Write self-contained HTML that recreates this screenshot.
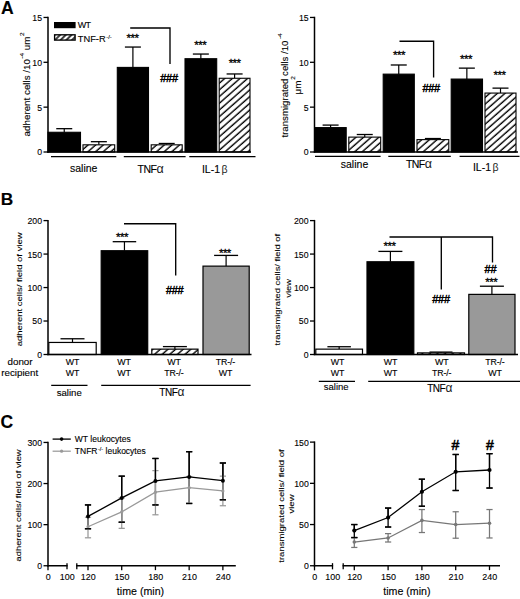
<!DOCTYPE html>
<html lang="en"><head><meta charset="utf-8"><title>Figure</title>
<style>html,body{margin:0;padding:0;background:#fff}svg{display:block}text{font-family:"Liberation Sans", Arial, sans-serif;stroke:#000;stroke-width:0.12px;paint-order:stroke}</style>
</head><body>
<svg width="520" height="599" viewBox="0 0 520 599">
<defs>
<pattern id="hatch" patternUnits="userSpaceOnUse" width="12" height="5.03" patternTransform="rotate(-41.3)"><rect width="12" height="5.03" fill="#fff"/><line x1="0" y1="1.05" x2="12" y2="1.05" stroke="#000" stroke-width="1.4"/></pattern>
<pattern id="hatchL" patternUnits="userSpaceOnUse" width="10" height="4" patternTransform="rotate(-45) translate(0 1.2)"><rect width="10" height="4" fill="#fff"/><line x1="0" y1="2" x2="10" y2="2" stroke="#000" stroke-width="1.5"/></pattern>
</defs>
<rect width="520" height="599" fill="#fff"/>
<text x="1.00" y="13.50" font-size="17.6" text-anchor="start" font-weight="bold">A</text>
<text x="0.80" y="205.00" font-size="17.3" text-anchor="start" font-weight="bold">B</text>
<text x="0.60" y="427.90" font-size="17.5" text-anchor="start" font-weight="bold">C</text>
<line x1="48.00" y1="16.75" x2="48.00" y2="152.70" stroke="#000" stroke-width="1.5" stroke-linecap="butt"/>
<line x1="43.50" y1="17.45" x2="48.00" y2="17.45" stroke="#000" stroke-width="1.3" stroke-linecap="butt"/>
<text transform="translate(42.00 20.90) scale(0.9 1)" font-size="9.7" text-anchor="end">15</text>
<line x1="43.50" y1="62.30" x2="48.00" y2="62.30" stroke="#000" stroke-width="1.3" stroke-linecap="butt"/>
<text transform="translate(42.00 65.75) scale(0.9 1)" font-size="9.7" text-anchor="end">10</text>
<line x1="43.50" y1="107.15" x2="48.00" y2="107.15" stroke="#000" stroke-width="1.3" stroke-linecap="butt"/>
<text transform="translate(42.00 110.60) scale(0.9 1)" font-size="9.7" text-anchor="end">5</text>
<line x1="43.50" y1="152.00" x2="48.00" y2="152.00" stroke="#000" stroke-width="1.3" stroke-linecap="butt"/>
<text transform="translate(42.00 155.45) scale(0.9 1)" font-size="9.7" text-anchor="end">0</text>
<line x1="64.25" y1="128.68" x2="64.25" y2="132.27" stroke="#000" stroke-width="1.2" stroke-linecap="butt"/>
<line x1="56.25" y1="128.68" x2="72.25" y2="128.68" stroke="#000" stroke-width="1.3" stroke-linecap="butt"/>
<rect x="48.00" y="132.27" width="32.50" height="19.73" fill="#000" stroke="#000" stroke-width="1.1"/>
<line x1="98.85" y1="141.68" x2="98.85" y2="144.82" stroke="#000" stroke-width="1.2" stroke-linecap="butt"/>
<line x1="90.85" y1="141.68" x2="106.85" y2="141.68" stroke="#000" stroke-width="1.3" stroke-linecap="butt"/>
<rect x="83.00" y="144.82" width="31.70" height="7.18" fill="url(#hatch)" stroke="#000" stroke-width="1.1"/>
<line x1="132.90" y1="47.05" x2="132.90" y2="67.41" stroke="#000" stroke-width="1.2" stroke-linecap="butt"/>
<line x1="124.90" y1="47.05" x2="140.90" y2="47.05" stroke="#000" stroke-width="1.3" stroke-linecap="butt"/>
<rect x="117.30" y="67.41" width="31.20" height="84.59" fill="#000" stroke="#000" stroke-width="1.1"/>
<line x1="166.70" y1="143.48" x2="166.70" y2="144.82" stroke="#000" stroke-width="1.2" stroke-linecap="butt"/>
<line x1="158.70" y1="143.48" x2="174.70" y2="143.48" stroke="#000" stroke-width="1.3" stroke-linecap="butt"/>
<rect x="151.20" y="144.82" width="31.00" height="7.18" fill="url(#hatch)" stroke="#000" stroke-width="1.1"/>
<line x1="200.85" y1="54.05" x2="200.85" y2="58.71" stroke="#000" stroke-width="1.2" stroke-linecap="butt"/>
<line x1="192.85" y1="54.05" x2="208.85" y2="54.05" stroke="#000" stroke-width="1.3" stroke-linecap="butt"/>
<rect x="185.00" y="58.71" width="31.70" height="93.29" fill="#000" stroke="#000" stroke-width="1.1"/>
<line x1="234.60" y1="73.96" x2="234.60" y2="78.27" stroke="#000" stroke-width="1.2" stroke-linecap="butt"/>
<line x1="226.60" y1="73.96" x2="242.60" y2="73.96" stroke="#000" stroke-width="1.3" stroke-linecap="butt"/>
<rect x="219.20" y="78.27" width="30.80" height="73.73" fill="url(#hatch)" stroke="#000" stroke-width="1.1"/>
<line x1="47.30" y1="152.00" x2="251.00" y2="152.00" stroke="#000" stroke-width="1.5" stroke-linecap="butt"/>
<line x1="51.00" y1="156.60" x2="116.30" y2="156.60" stroke="#000" stroke-width="1.3" stroke-linecap="butt"/>
<line x1="123.80" y1="156.60" x2="185.60" y2="156.60" stroke="#000" stroke-width="1.3" stroke-linecap="butt"/>
<line x1="189.30" y1="156.60" x2="255.50" y2="156.60" stroke="#000" stroke-width="1.3" stroke-linecap="butt"/>
<text x="83.70" y="172.30" font-size="10.5" text-anchor="middle">saline</text>
<text x="150.40" y="172.80" font-size="10.5" text-anchor="middle" letter-spacing="-0.6">TNF<tspan font-size="12.5" dx="0.3" style="stroke:none" fill="#222">α</tspan></text>
<text x="214.70" y="172.50" font-size="10.5" text-anchor="middle">IL-1<tspan dx="1.5" font-size="10.5" style="stroke:none" fill="#222">β</tspan></text>
<text x="132.50" y="41.50" font-size="11.5" text-anchor="middle" letter-spacing="-0.5" style="stroke-width:0.3px">***</text>
<text x="200.20" y="49.10" font-size="11.5" text-anchor="middle" letter-spacing="-0.5" style="stroke-width:0.3px">***</text>
<text x="234.60" y="66.60" font-size="11.5" text-anchor="middle" letter-spacing="-0.5" style="stroke-width:0.3px">***</text>
<text x="169.00" y="81.60" font-size="11" text-anchor="middle" letter-spacing="-0.3" style="stroke-width:0.45px">###</text>
<polyline points="130.2,28 170,28 170,64" fill="none" stroke="#000" stroke-width="1.35"/>
<rect x="54" y="22" width="21.6" height="6.2" fill="#000"/>
<rect x="54.6" y="34.8" width="20.5" height="5.3" fill="url(#hatchL)" stroke="#000" stroke-width="1.35"/>
<text x="77.80" y="28.40" font-size="9" text-anchor="start" letter-spacing="-0.7">WT</text>
<text x="77.80" y="42.20" font-size="9.3" text-anchor="start">TNF-R<tspan font-size="5.8" dy="-3.6" dx="0.6">-/-</tspan></text>
<text transform="translate(30.00 84.40) rotate(-90) scale(1 0.9)" font-size="9.8" text-anchor="middle">adherent cells /10<tspan font-size="6.5" dy="-6.5" dx="0.5">-4</tspan><tspan dy="6.5"> um</tspan><tspan font-size="6.5" dy="-6.5" dx="0.5">2</tspan></text>
<line x1="314.50" y1="16.75" x2="314.50" y2="152.70" stroke="#000" stroke-width="1.5" stroke-linecap="butt"/>
<line x1="310.00" y1="17.45" x2="314.50" y2="17.45" stroke="#000" stroke-width="1.3" stroke-linecap="butt"/>
<text transform="translate(308.60 20.90) scale(0.9 1)" font-size="9.7" text-anchor="end">15</text>
<line x1="310.00" y1="62.30" x2="314.50" y2="62.30" stroke="#000" stroke-width="1.3" stroke-linecap="butt"/>
<text transform="translate(308.60 65.75) scale(0.9 1)" font-size="9.7" text-anchor="end">10</text>
<line x1="310.00" y1="107.15" x2="314.50" y2="107.15" stroke="#000" stroke-width="1.3" stroke-linecap="butt"/>
<text transform="translate(308.60 110.60) scale(0.9 1)" font-size="9.7" text-anchor="end">5</text>
<line x1="310.00" y1="152.00" x2="314.50" y2="152.00" stroke="#000" stroke-width="1.3" stroke-linecap="butt"/>
<text transform="translate(308.60 155.45) scale(0.9 1)" font-size="9.7" text-anchor="end">0</text>
<line x1="330.60" y1="125.09" x2="330.60" y2="127.60" stroke="#000" stroke-width="1.2" stroke-linecap="butt"/>
<line x1="322.60" y1="125.09" x2="338.60" y2="125.09" stroke="#000" stroke-width="1.3" stroke-linecap="butt"/>
<rect x="315.00" y="127.60" width="31.20" height="24.40" fill="#000" stroke="#000" stroke-width="1.1"/>
<line x1="364.75" y1="134.51" x2="364.75" y2="137.11" stroke="#000" stroke-width="1.2" stroke-linecap="butt"/>
<line x1="356.75" y1="134.51" x2="372.75" y2="134.51" stroke="#000" stroke-width="1.3" stroke-linecap="butt"/>
<rect x="348.80" y="137.11" width="31.90" height="14.89" fill="url(#hatch)" stroke="#000" stroke-width="1.1"/>
<line x1="398.75" y1="64.99" x2="398.75" y2="74.14" stroke="#000" stroke-width="1.2" stroke-linecap="butt"/>
<line x1="390.75" y1="64.99" x2="406.75" y2="64.99" stroke="#000" stroke-width="1.3" stroke-linecap="butt"/>
<rect x="383.20" y="74.14" width="31.10" height="77.86" fill="#000" stroke="#000" stroke-width="1.1"/>
<line x1="432.90" y1="138.54" x2="432.90" y2="139.62" stroke="#000" stroke-width="1.2" stroke-linecap="butt"/>
<line x1="424.90" y1="138.54" x2="440.90" y2="138.54" stroke="#000" stroke-width="1.3" stroke-linecap="butt"/>
<rect x="417.00" y="139.62" width="31.80" height="12.38" fill="url(#hatch)" stroke="#000" stroke-width="1.1"/>
<line x1="466.85" y1="68.13" x2="466.85" y2="79.07" stroke="#000" stroke-width="1.2" stroke-linecap="butt"/>
<line x1="458.85" y1="68.13" x2="474.85" y2="68.13" stroke="#000" stroke-width="1.3" stroke-linecap="butt"/>
<rect x="451.20" y="79.07" width="31.30" height="72.93" fill="#000" stroke="#000" stroke-width="1.1"/>
<line x1="500.50" y1="88.13" x2="500.50" y2="93.07" stroke="#000" stroke-width="1.2" stroke-linecap="butt"/>
<line x1="492.50" y1="88.13" x2="508.50" y2="88.13" stroke="#000" stroke-width="1.3" stroke-linecap="butt"/>
<rect x="485.00" y="93.07" width="31.00" height="58.93" fill="url(#hatch)" stroke="#000" stroke-width="1.1"/>
<line x1="313.80" y1="152.00" x2="518.00" y2="152.00" stroke="#000" stroke-width="1.5" stroke-linecap="butt"/>
<line x1="315.00" y1="156.40" x2="380.60" y2="156.40" stroke="#000" stroke-width="1.3" stroke-linecap="butt"/>
<line x1="388.30" y1="156.40" x2="450.80" y2="156.40" stroke="#000" stroke-width="1.3" stroke-linecap="butt"/>
<line x1="459.60" y1="156.40" x2="519.50" y2="156.40" stroke="#000" stroke-width="1.3" stroke-linecap="butt"/>
<text x="354.50" y="168.00" font-size="10.5" text-anchor="middle">saline</text>
<text x="418.70" y="168.00" font-size="10.5" text-anchor="middle" letter-spacing="-0.6">TNF<tspan font-size="12.5" dx="0.3" style="stroke:none" fill="#222">α</tspan></text>
<text x="485.70" y="171.20" font-size="10.5" text-anchor="middle">IL-1<tspan dx="1.5" font-size="10.5" style="stroke:none" fill="#222">β</tspan></text>
<text x="399.00" y="59.00" font-size="11.5" text-anchor="middle" letter-spacing="-0.5" style="stroke-width:0.3px">***</text>
<text x="466.00" y="63.00" font-size="11.5" text-anchor="middle" letter-spacing="-0.5" style="stroke-width:0.3px">***</text>
<text x="499.50" y="78.60" font-size="11.5" text-anchor="middle" letter-spacing="-0.5" style="stroke-width:0.3px">***</text>
<text x="431.20" y="92.40" font-size="11" text-anchor="middle" letter-spacing="-0.3" style="stroke-width:0.45px">###</text>
<polyline points="399.5,41.2 433.6,41.2 433.6,77.5" fill="none" stroke="#000" stroke-width="1.35"/>
<text transform="translate(288.30 85.40) rotate(-90) scale(1 0.9)" font-size="9.65" text-anchor="middle">transmigrated cells /10<tspan font-size="6.5" dy="-6.5" dx="1.5">-4</tspan></text>
<text transform="translate(300.70 85.30) rotate(-90) scale(1 0.9)" font-size="10" text-anchor="middle">μm<tspan font-size="6.5" dy="-6.5" dx="0.5">2</tspan></text>
<line x1="48.00" y1="219.90" x2="48.00" y2="355.20" stroke="#000" stroke-width="1.5" stroke-linecap="butt"/>
<line x1="43.50" y1="220.60" x2="48.00" y2="220.60" stroke="#000" stroke-width="1.3" stroke-linecap="butt"/>
<text transform="translate(42.00 224.05) scale(0.9 1)" font-size="9.7" text-anchor="end">200</text>
<line x1="43.50" y1="254.07" x2="48.00" y2="254.07" stroke="#000" stroke-width="1.3" stroke-linecap="butt"/>
<text transform="translate(42.00 257.52) scale(0.9 1)" font-size="9.7" text-anchor="end">150</text>
<line x1="43.50" y1="287.55" x2="48.00" y2="287.55" stroke="#000" stroke-width="1.3" stroke-linecap="butt"/>
<text transform="translate(42.00 291.00) scale(0.9 1)" font-size="9.7" text-anchor="end">100</text>
<line x1="43.50" y1="321.02" x2="48.00" y2="321.02" stroke="#000" stroke-width="1.3" stroke-linecap="butt"/>
<text transform="translate(42.00 324.47) scale(0.9 1)" font-size="9.7" text-anchor="end">50</text>
<line x1="43.50" y1="354.50" x2="48.00" y2="354.50" stroke="#000" stroke-width="1.3" stroke-linecap="butt"/>
<text transform="translate(42.00 357.95) scale(0.9 1)" font-size="9.7" text-anchor="end">0</text>
<line x1="72.50" y1="338.77" x2="72.50" y2="342.45" stroke="#000" stroke-width="1.2" stroke-linecap="butt"/>
<line x1="60.50" y1="338.77" x2="84.50" y2="338.77" stroke="#000" stroke-width="1.3" stroke-linecap="butt"/>
<rect x="48.80" y="342.45" width="47.40" height="12.05" fill="#fff" stroke="#000" stroke-width="1.2"/>
<line x1="124.45" y1="241.69" x2="124.45" y2="250.73" stroke="#000" stroke-width="1.2" stroke-linecap="butt"/>
<line x1="112.70" y1="241.69" x2="136.20" y2="241.69" stroke="#000" stroke-width="1.3" stroke-linecap="butt"/>
<rect x="101.20" y="250.73" width="46.50" height="103.77" fill="#000" stroke="#000" stroke-width="1.2"/>
<line x1="174.90" y1="346.60" x2="174.90" y2="349.14" stroke="#000" stroke-width="1.2" stroke-linecap="butt"/>
<line x1="162.90" y1="346.60" x2="186.90" y2="346.60" stroke="#000" stroke-width="1.3" stroke-linecap="butt"/>
<rect x="151.80" y="349.14" width="46.20" height="5.36" fill="url(#hatch)" stroke="#000" stroke-width="1.2"/>
<line x1="226.10" y1="255.41" x2="226.10" y2="266.13" stroke="#000" stroke-width="1.2" stroke-linecap="butt"/>
<line x1="214.10" y1="255.41" x2="238.10" y2="255.41" stroke="#000" stroke-width="1.3" stroke-linecap="butt"/>
<rect x="203.00" y="266.13" width="46.20" height="88.37" fill="#999999" stroke="#000" stroke-width="1.2"/>
<line x1="47.30" y1="354.50" x2="251.50" y2="354.50" stroke="#000" stroke-width="1.5" stroke-linecap="butt"/>
<text x="122.00" y="241.00" font-size="11.5" text-anchor="middle" letter-spacing="-0.5" style="stroke-width:0.3px">***</text>
<text x="224.90" y="257.00" font-size="11.5" text-anchor="middle" letter-spacing="-0.5" style="stroke-width:0.3px">***</text>
<text x="174.70" y="293.80" font-size="11" text-anchor="middle" letter-spacing="-0.3" style="stroke-width:0.45px">###</text>
<polyline points="124,223.7 175.7,223.7 175.7,275.6" fill="none" stroke="#000" stroke-width="1.35"/>
<text x="7.50" y="364.50" font-size="9.8" text-anchor="start">donor</text>
<text x="1.20" y="375.90" font-size="9.8" text-anchor="start">recipient</text>
<text x="72.50" y="364.50" font-size="8.9" text-anchor="middle" letter-spacing="-0.15">WT</text>
<text x="72.50" y="375.80" font-size="8.9" text-anchor="middle" letter-spacing="-0.15">WT</text>
<text x="124.00" y="364.50" font-size="8.9" text-anchor="middle" letter-spacing="-0.15">WT</text>
<text x="124.00" y="375.80" font-size="8.9" text-anchor="middle" letter-spacing="-0.15">WT</text>
<text x="174.00" y="364.50" font-size="8.9" text-anchor="middle" letter-spacing="-0.15">WT</text>
<text x="174.00" y="375.80" font-size="8.8" text-anchor="middle" letter-spacing="-0.15">TR-/-</text>
<text x="225.50" y="364.50" font-size="8.8" text-anchor="middle" letter-spacing="-0.15">TR-/-</text>
<text x="225.50" y="375.80" font-size="8.9" text-anchor="middle" letter-spacing="-0.15">WT</text>
<line x1="51.20" y1="385.30" x2="87.50" y2="385.30" stroke="#000" stroke-width="1.3" stroke-linecap="butt"/>
<line x1="101.20" y1="385.30" x2="250.60" y2="385.30" stroke="#000" stroke-width="1.3" stroke-linecap="butt"/>
<text x="69.20" y="395.60" font-size="9.6" text-anchor="middle">saline</text>
<text x="171.70" y="396.00" font-size="10" text-anchor="middle" letter-spacing="-0.5">TNF<tspan font-size="12" dx="0.3" style="stroke:none" fill="#222">α</tspan></text>
<text transform="translate(22.40 289.30) rotate(-90) scale(1 0.85)" font-size="9.5" text-anchor="middle">adherent cells/ field of view</text>
<line x1="314.50" y1="219.90" x2="314.50" y2="355.20" stroke="#000" stroke-width="1.5" stroke-linecap="butt"/>
<line x1="310.00" y1="220.60" x2="314.50" y2="220.60" stroke="#000" stroke-width="1.3" stroke-linecap="butt"/>
<text transform="translate(308.50 224.05) scale(0.9 1)" font-size="9.7" text-anchor="end">200</text>
<line x1="310.00" y1="254.07" x2="314.50" y2="254.07" stroke="#000" stroke-width="1.3" stroke-linecap="butt"/>
<text transform="translate(308.50 257.52) scale(0.9 1)" font-size="9.7" text-anchor="end">150</text>
<line x1="310.00" y1="287.55" x2="314.50" y2="287.55" stroke="#000" stroke-width="1.3" stroke-linecap="butt"/>
<text transform="translate(308.50 291.00) scale(0.9 1)" font-size="9.7" text-anchor="end">100</text>
<line x1="310.00" y1="321.02" x2="314.50" y2="321.02" stroke="#000" stroke-width="1.3" stroke-linecap="butt"/>
<text transform="translate(308.50 324.47) scale(0.9 1)" font-size="9.7" text-anchor="end">50</text>
<line x1="310.00" y1="354.50" x2="314.50" y2="354.50" stroke="#000" stroke-width="1.3" stroke-linecap="butt"/>
<text transform="translate(308.50 357.95) scale(0.9 1)" font-size="9.7" text-anchor="end">0</text>
<line x1="339.15" y1="346.73" x2="339.15" y2="349.14" stroke="#000" stroke-width="1.2" stroke-linecap="butt"/>
<line x1="327.40" y1="346.73" x2="350.90" y2="346.73" stroke="#000" stroke-width="1.3" stroke-linecap="butt"/>
<rect x="315.80" y="349.14" width="46.70" height="5.36" fill="#fff" stroke="#000" stroke-width="1.2"/>
<line x1="390.40" y1="251.40" x2="390.40" y2="261.77" stroke="#000" stroke-width="1.2" stroke-linecap="butt"/>
<line x1="378.40" y1="251.40" x2="402.40" y2="251.40" stroke="#000" stroke-width="1.3" stroke-linecap="butt"/>
<rect x="367.00" y="261.77" width="46.80" height="92.73" fill="#000" stroke="#000" stroke-width="1.2"/>
<line x1="441.00" y1="352.09" x2="441.00" y2="352.89" stroke="#000" stroke-width="1.2" stroke-linecap="butt"/>
<line x1="429.50" y1="352.09" x2="452.50" y2="352.09" stroke="#000" stroke-width="1.3" stroke-linecap="butt"/>
<rect x="417.50" y="352.89" width="47.00" height="1.61" fill="url(#hatch)" stroke="#000" stroke-width="1.2"/>
<line x1="491.90" y1="286.21" x2="491.90" y2="294.38" stroke="#000" stroke-width="1.2" stroke-linecap="butt"/>
<line x1="479.90" y1="286.21" x2="503.90" y2="286.21" stroke="#000" stroke-width="1.3" stroke-linecap="butt"/>
<rect x="468.80" y="294.38" width="46.20" height="60.12" fill="#999999" stroke="#000" stroke-width="1.2"/>
<line x1="313.80" y1="354.50" x2="518.00" y2="354.50" stroke="#000" stroke-width="1.5" stroke-linecap="butt"/>
<text x="389.50" y="249.50" font-size="11.5" text-anchor="middle" letter-spacing="-0.5" style="stroke-width:0.3px">***</text>
<text x="491.30" y="286.00" font-size="11.5" text-anchor="middle" letter-spacing="-0.5" style="stroke-width:0.3px">***</text>
<text x="441.00" y="303.10" font-size="11" text-anchor="middle" letter-spacing="-0.3" style="stroke-width:0.45px">###</text>
<text x="490.40" y="273.20" font-size="11" text-anchor="middle" letter-spacing="-0.3" style="stroke-width:0.45px">##</text>
<polyline points="389.5,237 492.5,237 492.5,262.5" fill="none" stroke="#000" stroke-width="1.35"/>
<line x1="441.30" y1="237.00" x2="441.30" y2="289.50" stroke="#000" stroke-width="1.35" stroke-linecap="butt"/>
<text x="337.50" y="364.50" font-size="8.9" text-anchor="middle" letter-spacing="-0.15">WT</text>
<text x="337.50" y="375.80" font-size="8.9" text-anchor="middle" letter-spacing="-0.15">WT</text>
<text x="390.50" y="364.50" font-size="8.9" text-anchor="middle" letter-spacing="-0.15">WT</text>
<text x="390.50" y="375.80" font-size="8.9" text-anchor="middle" letter-spacing="-0.15">WT</text>
<text x="441.70" y="364.50" font-size="8.9" text-anchor="middle" letter-spacing="-0.15">WT</text>
<text x="441.70" y="375.80" font-size="8.8" text-anchor="middle" letter-spacing="-0.15">TR-/-</text>
<text x="495.00" y="364.50" font-size="8.8" text-anchor="middle" letter-spacing="-0.15">TR-/-</text>
<text x="495.00" y="375.80" font-size="8.9" text-anchor="middle" letter-spacing="-0.15">WT</text>
<line x1="318.80" y1="381.30" x2="355.00" y2="381.30" stroke="#000" stroke-width="1.3" stroke-linecap="butt"/>
<line x1="368.20" y1="381.30" x2="520.00" y2="381.30" stroke="#000" stroke-width="1.3" stroke-linecap="butt"/>
<text x="336.20" y="390.20" font-size="9.5" text-anchor="middle">saline</text>
<text x="439.50" y="392.00" font-size="10" text-anchor="middle" letter-spacing="-0.5">TNF<tspan font-size="12" dx="0.3" style="stroke:none" fill="#222">α</tspan></text>
<text transform="translate(280.00 289.60) rotate(-90) scale(1 0.82)" font-size="9.39" text-anchor="middle">transmigrated cells/ field of</text>
<text transform="translate(291.30 288.40) rotate(-90) scale(1 0.82)" font-size="9.3" text-anchor="middle">view</text>
<line x1="48.00" y1="441.75" x2="48.00" y2="566.45" stroke="#000" stroke-width="1.5" stroke-linecap="butt"/>
<line x1="43.50" y1="442.45" x2="48.00" y2="442.45" stroke="#000" stroke-width="1.3" stroke-linecap="butt"/>
<text transform="translate(42.00 445.90) scale(0.9 1)" font-size="9.7" text-anchor="end">300</text>
<line x1="43.50" y1="483.55" x2="48.00" y2="483.55" stroke="#000" stroke-width="1.3" stroke-linecap="butt"/>
<text transform="translate(42.00 487.00) scale(0.9 1)" font-size="9.7" text-anchor="end">200</text>
<line x1="43.50" y1="524.65" x2="48.00" y2="524.65" stroke="#000" stroke-width="1.3" stroke-linecap="butt"/>
<text transform="translate(42.00 528.10) scale(0.9 1)" font-size="9.7" text-anchor="end">100</text>
<line x1="43.50" y1="565.75" x2="48.00" y2="565.75" stroke="#000" stroke-width="1.3" stroke-linecap="butt"/>
<text transform="translate(42.00 569.20) scale(0.9 1)" font-size="9.7" text-anchor="end">0</text>
<line x1="47.30" y1="565.75" x2="67.60" y2="565.75" stroke="#000" stroke-width="1.5" stroke-linecap="butt"/>
<line x1="76.20" y1="565.75" x2="235.80" y2="565.75" stroke="#000" stroke-width="1.5" stroke-linecap="butt"/>
<line x1="48.00" y1="565.75" x2="48.00" y2="570.35" stroke="#000" stroke-width="1.3" stroke-linecap="butt"/>
<line x1="67.00" y1="563.15" x2="67.00" y2="569.35" stroke="#000" stroke-width="1.3" stroke-linecap="butt"/>
<line x1="76.80" y1="563.15" x2="76.80" y2="569.35" stroke="#000" stroke-width="1.3" stroke-linecap="butt"/>
<line x1="88.00" y1="565.75" x2="88.00" y2="570.15" stroke="#000" stroke-width="1.3" stroke-linecap="butt"/>
<text transform="translate(88.30 580.30) scale(0.92 1)" font-size="9.7" text-anchor="middle">120</text>
<line x1="121.72" y1="565.75" x2="121.72" y2="570.15" stroke="#000" stroke-width="1.3" stroke-linecap="butt"/>
<text transform="translate(122.02 580.30) scale(0.92 1)" font-size="9.7" text-anchor="middle">150</text>
<line x1="155.44" y1="565.75" x2="155.44" y2="570.15" stroke="#000" stroke-width="1.3" stroke-linecap="butt"/>
<text transform="translate(155.74 580.30) scale(0.92 1)" font-size="9.7" text-anchor="middle">180</text>
<line x1="189.16" y1="565.75" x2="189.16" y2="570.15" stroke="#000" stroke-width="1.3" stroke-linecap="butt"/>
<text transform="translate(189.46 580.30) scale(0.92 1)" font-size="9.7" text-anchor="middle">210</text>
<line x1="222.88" y1="565.75" x2="222.88" y2="570.15" stroke="#000" stroke-width="1.3" stroke-linecap="butt"/>
<text transform="translate(223.18 580.30) scale(0.92 1)" font-size="9.7" text-anchor="middle">240</text>
<text transform="translate(48.30 580.30) scale(0.92 1)" font-size="9.7" text-anchor="middle">0</text>
<text transform="translate(67.20 580.30) scale(0.92 1)" font-size="9.7" text-anchor="middle">100</text>
<line x1="88.00" y1="504.92" x2="88.00" y2="528.76" stroke="#000" stroke-width="1.3" stroke-linecap="butt"/>
<line x1="84.90" y1="504.92" x2="91.10" y2="504.92" stroke="#000" stroke-width="1.3" stroke-linecap="butt"/>
<line x1="84.90" y1="528.76" x2="91.10" y2="528.76" stroke="#000" stroke-width="1.3" stroke-linecap="butt"/>
<line x1="121.72" y1="476.15" x2="121.72" y2="522.18" stroke="#000" stroke-width="1.3" stroke-linecap="butt"/>
<line x1="118.62" y1="476.15" x2="124.82" y2="476.15" stroke="#000" stroke-width="1.3" stroke-linecap="butt"/>
<line x1="118.62" y1="522.18" x2="124.82" y2="522.18" stroke="#000" stroke-width="1.3" stroke-linecap="butt"/>
<line x1="155.44" y1="458.48" x2="155.44" y2="504.92" stroke="#000" stroke-width="1.3" stroke-linecap="butt"/>
<line x1="152.34" y1="458.48" x2="158.54" y2="458.48" stroke="#000" stroke-width="1.3" stroke-linecap="butt"/>
<line x1="152.34" y1="504.92" x2="158.54" y2="504.92" stroke="#000" stroke-width="1.3" stroke-linecap="butt"/>
<line x1="189.16" y1="451.70" x2="189.16" y2="503.48" stroke="#000" stroke-width="1.3" stroke-linecap="butt"/>
<line x1="186.06" y1="451.70" x2="192.26" y2="451.70" stroke="#000" stroke-width="1.3" stroke-linecap="butt"/>
<line x1="186.06" y1="503.48" x2="192.26" y2="503.48" stroke="#000" stroke-width="1.3" stroke-linecap="butt"/>
<line x1="222.88" y1="463.00" x2="222.88" y2="499.78" stroke="#000" stroke-width="1.3" stroke-linecap="butt"/>
<line x1="219.78" y1="463.00" x2="225.98" y2="463.00" stroke="#000" stroke-width="1.3" stroke-linecap="butt"/>
<line x1="219.78" y1="499.78" x2="225.98" y2="499.78" stroke="#000" stroke-width="1.3" stroke-linecap="butt"/>
<line x1="88.00" y1="517.25" x2="88.00" y2="537.80" stroke="#999999" stroke-width="1.25" stroke-linecap="butt"/>
<line x1="84.90" y1="517.25" x2="91.10" y2="517.25" stroke="#999999" stroke-width="1.25" stroke-linecap="butt"/>
<line x1="84.90" y1="537.80" x2="91.10" y2="537.80" stroke="#999999" stroke-width="1.25" stroke-linecap="butt"/>
<line x1="121.72" y1="497.94" x2="121.72" y2="528.35" stroke="#999999" stroke-width="1.25" stroke-linecap="butt"/>
<line x1="118.62" y1="497.94" x2="124.82" y2="497.94" stroke="#999999" stroke-width="1.25" stroke-linecap="butt"/>
<line x1="118.62" y1="528.35" x2="124.82" y2="528.35" stroke="#999999" stroke-width="1.25" stroke-linecap="butt"/>
<line x1="155.44" y1="470.60" x2="155.44" y2="514.79" stroke="#999999" stroke-width="1.25" stroke-linecap="butt"/>
<line x1="152.34" y1="470.60" x2="158.54" y2="470.60" stroke="#999999" stroke-width="1.25" stroke-linecap="butt"/>
<line x1="152.34" y1="514.79" x2="158.54" y2="514.79" stroke="#999999" stroke-width="1.25" stroke-linecap="butt"/>
<line x1="189.16" y1="476.56" x2="189.16" y2="503.28" stroke="#999999" stroke-width="1.25" stroke-linecap="butt"/>
<line x1="186.06" y1="476.56" x2="192.26" y2="476.56" stroke="#999999" stroke-width="1.25" stroke-linecap="butt"/>
<line x1="186.06" y1="503.28" x2="192.26" y2="503.28" stroke="#999999" stroke-width="1.25" stroke-linecap="butt"/>
<line x1="222.88" y1="476.15" x2="222.88" y2="505.74" stroke="#999999" stroke-width="1.25" stroke-linecap="butt"/>
<line x1="219.78" y1="476.15" x2="225.98" y2="476.15" stroke="#999999" stroke-width="1.25" stroke-linecap="butt"/>
<line x1="219.78" y1="505.74" x2="225.98" y2="505.74" stroke="#999999" stroke-width="1.25" stroke-linecap="butt"/>
<polyline points="88.00,526.71 121.72,511.91 155.44,492.18 189.16,487.66 222.88,490.95" fill="none" stroke="#999999" stroke-width="1.25"/>
<circle cx="88.00" cy="526.71" r="1.6" fill="#999999"/>
<circle cx="121.72" cy="511.91" r="1.6" fill="#999999"/>
<circle cx="155.44" cy="492.18" r="1.6" fill="#999999"/>
<circle cx="189.16" cy="487.66" r="1.6" fill="#999999"/>
<circle cx="222.88" cy="490.95" r="1.6" fill="#999999"/>
<line x1="84.90" y1="528.76" x2="91.10" y2="528.76" stroke="#000" stroke-width="1.3" stroke-linecap="butt"/>
<line x1="118.62" y1="522.18" x2="124.82" y2="522.18" stroke="#000" stroke-width="1.3" stroke-linecap="butt"/>
<line x1="152.34" y1="504.92" x2="158.54" y2="504.92" stroke="#000" stroke-width="1.3" stroke-linecap="butt"/>
<line x1="186.06" y1="503.48" x2="192.26" y2="503.48" stroke="#000" stroke-width="1.3" stroke-linecap="butt"/>
<line x1="219.78" y1="499.78" x2="225.98" y2="499.78" stroke="#000" stroke-width="1.3" stroke-linecap="butt"/>
<line x1="88.00" y1="504.92" x2="88.00" y2="516.43" stroke="#000" stroke-width="1.3" stroke-linecap="butt"/>
<line x1="84.90" y1="504.92" x2="91.10" y2="504.92" stroke="#000" stroke-width="1.3" stroke-linecap="butt"/>
<line x1="121.72" y1="476.15" x2="121.72" y2="497.94" stroke="#000" stroke-width="1.3" stroke-linecap="butt"/>
<line x1="118.62" y1="476.15" x2="124.82" y2="476.15" stroke="#000" stroke-width="1.3" stroke-linecap="butt"/>
<line x1="155.44" y1="458.48" x2="155.44" y2="480.88" stroke="#000" stroke-width="1.3" stroke-linecap="butt"/>
<line x1="152.34" y1="458.48" x2="158.54" y2="458.48" stroke="#000" stroke-width="1.3" stroke-linecap="butt"/>
<line x1="189.16" y1="451.70" x2="189.16" y2="476.97" stroke="#000" stroke-width="1.3" stroke-linecap="butt"/>
<line x1="186.06" y1="451.70" x2="192.26" y2="451.70" stroke="#000" stroke-width="1.3" stroke-linecap="butt"/>
<line x1="222.88" y1="463.00" x2="222.88" y2="480.67" stroke="#000" stroke-width="1.3" stroke-linecap="butt"/>
<line x1="219.78" y1="463.00" x2="225.98" y2="463.00" stroke="#000" stroke-width="1.3" stroke-linecap="butt"/>
<polyline points="88.00,516.43 121.72,497.94 155.44,480.88 189.16,476.97 222.88,480.67" fill="none" stroke="#000" stroke-width="1.3"/>
<circle cx="88.00" cy="516.43" r="2.0" fill="#000"/>
<circle cx="121.72" cy="497.94" r="2.0" fill="#000"/>
<circle cx="155.44" cy="480.88" r="2.0" fill="#000"/>
<circle cx="189.16" cy="476.97" r="2.0" fill="#000"/>
<circle cx="222.88" cy="480.67" r="2.0" fill="#000"/>
<text x="140.50" y="594.80" font-size="10.65" text-anchor="middle">time (min)</text>
<text transform="translate(21.20 505.40) rotate(-90) scale(1 0.85)" font-size="9.35" text-anchor="middle">adherent cells/ field of view</text>
<line x1="52.60" y1="439.10" x2="70.80" y2="439.10" stroke="#000" stroke-width="1.3" stroke-linecap="butt"/>
<circle cx="61.6" cy="439.1" r="1.8" fill="#000"/>
<line x1="52.60" y1="451.20" x2="70.80" y2="451.20" stroke="#999999" stroke-width="1.25" stroke-linecap="butt"/>
<circle cx="61.6" cy="451.2" r="1.6" fill="#999999"/>
<text x="74.80" y="442.40" font-size="8.55" text-anchor="start">WT leukocytes</text>
<text x="74.80" y="454.00" font-size="8.5" text-anchor="start">TNFR<tspan font-size="5.5" dy="-3.4" dx="0.5">-/-</tspan><tspan dy="3.4"> leukocytes</tspan></text>
<line x1="314.50" y1="441.42" x2="314.50" y2="566.45" stroke="#000" stroke-width="1.5" stroke-linecap="butt"/>
<line x1="310.00" y1="442.12" x2="314.50" y2="442.12" stroke="#000" stroke-width="1.3" stroke-linecap="butt"/>
<text transform="translate(308.80 445.57) scale(0.9 1)" font-size="9.7" text-anchor="end">150</text>
<line x1="310.00" y1="483.33" x2="314.50" y2="483.33" stroke="#000" stroke-width="1.3" stroke-linecap="butt"/>
<text transform="translate(308.80 486.78) scale(0.9 1)" font-size="9.7" text-anchor="end">100</text>
<line x1="310.00" y1="524.54" x2="314.50" y2="524.54" stroke="#000" stroke-width="1.3" stroke-linecap="butt"/>
<text transform="translate(308.80 527.99) scale(0.9 1)" font-size="9.7" text-anchor="end">50</text>
<line x1="310.00" y1="565.75" x2="314.50" y2="565.75" stroke="#000" stroke-width="1.3" stroke-linecap="butt"/>
<text transform="translate(308.80 569.20) scale(0.9 1)" font-size="9.7" text-anchor="end">0</text>
<line x1="313.80" y1="565.75" x2="333.10" y2="565.75" stroke="#000" stroke-width="1.5" stroke-linecap="butt"/>
<line x1="342.60" y1="565.75" x2="500.00" y2="565.75" stroke="#000" stroke-width="1.5" stroke-linecap="butt"/>
<line x1="314.50" y1="565.75" x2="314.50" y2="570.35" stroke="#000" stroke-width="1.3" stroke-linecap="butt"/>
<line x1="332.50" y1="563.15" x2="332.50" y2="569.35" stroke="#000" stroke-width="1.3" stroke-linecap="butt"/>
<line x1="343.20" y1="563.15" x2="343.20" y2="569.35" stroke="#000" stroke-width="1.3" stroke-linecap="butt"/>
<line x1="354.30" y1="565.75" x2="354.30" y2="570.15" stroke="#000" stroke-width="1.3" stroke-linecap="butt"/>
<text transform="translate(354.60 580.30) scale(0.92 1)" font-size="9.7" text-anchor="middle">120</text>
<line x1="388.10" y1="565.75" x2="388.10" y2="570.15" stroke="#000" stroke-width="1.3" stroke-linecap="butt"/>
<text transform="translate(388.40 580.30) scale(0.92 1)" font-size="9.7" text-anchor="middle">150</text>
<line x1="421.90" y1="565.75" x2="421.90" y2="570.15" stroke="#000" stroke-width="1.3" stroke-linecap="butt"/>
<text transform="translate(422.20 580.30) scale(0.92 1)" font-size="9.7" text-anchor="middle">180</text>
<line x1="455.70" y1="565.75" x2="455.70" y2="570.15" stroke="#000" stroke-width="1.3" stroke-linecap="butt"/>
<text transform="translate(456.00 580.30) scale(0.92 1)" font-size="9.7" text-anchor="middle">210</text>
<line x1="489.50" y1="565.75" x2="489.50" y2="570.15" stroke="#000" stroke-width="1.3" stroke-linecap="butt"/>
<text transform="translate(489.80 580.30) scale(0.92 1)" font-size="9.7" text-anchor="middle">240</text>
<text transform="translate(314.80 580.30) scale(0.92 1)" font-size="9.7" text-anchor="middle">0</text>
<text transform="translate(332.70 580.30) scale(0.92 1)" font-size="9.7" text-anchor="middle">100</text>
<line x1="354.30" y1="524.54" x2="354.30" y2="537.56" stroke="#000" stroke-width="1.3" stroke-linecap="butt"/>
<line x1="351.20" y1="524.54" x2="357.40" y2="524.54" stroke="#000" stroke-width="1.3" stroke-linecap="butt"/>
<line x1="351.20" y1="537.56" x2="357.40" y2="537.56" stroke="#000" stroke-width="1.3" stroke-linecap="butt"/>
<line x1="388.10" y1="508.06" x2="388.10" y2="527.01" stroke="#000" stroke-width="1.3" stroke-linecap="butt"/>
<line x1="385.00" y1="508.06" x2="391.20" y2="508.06" stroke="#000" stroke-width="1.3" stroke-linecap="butt"/>
<line x1="385.00" y1="527.01" x2="391.20" y2="527.01" stroke="#000" stroke-width="1.3" stroke-linecap="butt"/>
<line x1="421.90" y1="479.21" x2="421.90" y2="506.24" stroke="#000" stroke-width="1.3" stroke-linecap="butt"/>
<line x1="418.80" y1="479.21" x2="425.00" y2="479.21" stroke="#000" stroke-width="1.3" stroke-linecap="butt"/>
<line x1="418.80" y1="506.24" x2="425.00" y2="506.24" stroke="#000" stroke-width="1.3" stroke-linecap="butt"/>
<line x1="455.70" y1="454.48" x2="455.70" y2="490.50" stroke="#000" stroke-width="1.3" stroke-linecap="butt"/>
<line x1="452.60" y1="454.48" x2="458.80" y2="454.48" stroke="#000" stroke-width="1.3" stroke-linecap="butt"/>
<line x1="452.60" y1="490.50" x2="458.80" y2="490.50" stroke="#000" stroke-width="1.3" stroke-linecap="butt"/>
<line x1="489.50" y1="453.66" x2="489.50" y2="488.03" stroke="#000" stroke-width="1.3" stroke-linecap="butt"/>
<line x1="486.40" y1="453.66" x2="492.60" y2="453.66" stroke="#000" stroke-width="1.3" stroke-linecap="butt"/>
<line x1="486.40" y1="488.03" x2="492.60" y2="488.03" stroke="#000" stroke-width="1.3" stroke-linecap="butt"/>
<line x1="354.30" y1="537.56" x2="354.30" y2="547.45" stroke="#777777" stroke-width="1.25" stroke-linecap="butt"/>
<line x1="351.20" y1="537.56" x2="357.40" y2="537.56" stroke="#777777" stroke-width="1.25" stroke-linecap="butt"/>
<line x1="351.20" y1="547.45" x2="357.40" y2="547.45" stroke="#777777" stroke-width="1.25" stroke-linecap="butt"/>
<line x1="388.10" y1="533.61" x2="388.10" y2="542.01" stroke="#777777" stroke-width="1.25" stroke-linecap="butt"/>
<line x1="385.00" y1="533.61" x2="391.20" y2="533.61" stroke="#777777" stroke-width="1.25" stroke-linecap="butt"/>
<line x1="385.00" y1="542.01" x2="391.20" y2="542.01" stroke="#777777" stroke-width="1.25" stroke-linecap="butt"/>
<line x1="421.90" y1="509.54" x2="421.90" y2="532.53" stroke="#777777" stroke-width="1.25" stroke-linecap="butt"/>
<line x1="418.80" y1="509.54" x2="425.00" y2="509.54" stroke="#777777" stroke-width="1.25" stroke-linecap="butt"/>
<line x1="418.80" y1="532.53" x2="425.00" y2="532.53" stroke="#777777" stroke-width="1.25" stroke-linecap="butt"/>
<line x1="455.70" y1="511.76" x2="455.70" y2="538.22" stroke="#777777" stroke-width="1.25" stroke-linecap="butt"/>
<line x1="452.60" y1="511.76" x2="458.80" y2="511.76" stroke="#777777" stroke-width="1.25" stroke-linecap="butt"/>
<line x1="452.60" y1="538.22" x2="458.80" y2="538.22" stroke="#777777" stroke-width="1.25" stroke-linecap="butt"/>
<line x1="489.50" y1="509.54" x2="489.50" y2="537.97" stroke="#777777" stroke-width="1.25" stroke-linecap="butt"/>
<line x1="486.40" y1="509.54" x2="492.60" y2="509.54" stroke="#777777" stroke-width="1.25" stroke-linecap="butt"/>
<line x1="486.40" y1="537.97" x2="492.60" y2="537.97" stroke="#777777" stroke-width="1.25" stroke-linecap="butt"/>
<polyline points="354.30,542.01 388.10,537.97 421.90,520.42 455.70,524.54 489.50,523.22" fill="none" stroke="#777777" stroke-width="1.25"/>
<circle cx="354.30" cy="542.01" r="1.8" fill="#777777"/>
<circle cx="388.10" cy="537.97" r="1.8" fill="#777777"/>
<circle cx="421.90" cy="520.42" r="1.8" fill="#777777"/>
<circle cx="455.70" cy="524.54" r="1.8" fill="#777777"/>
<circle cx="489.50" cy="523.22" r="1.8" fill="#777777"/>
<line x1="351.20" y1="537.56" x2="357.40" y2="537.56" stroke="#000" stroke-width="1.3" stroke-linecap="butt"/>
<line x1="385.00" y1="527.01" x2="391.20" y2="527.01" stroke="#000" stroke-width="1.3" stroke-linecap="butt"/>
<line x1="418.80" y1="506.24" x2="425.00" y2="506.24" stroke="#000" stroke-width="1.3" stroke-linecap="butt"/>
<line x1="452.60" y1="490.50" x2="458.80" y2="490.50" stroke="#000" stroke-width="1.3" stroke-linecap="butt"/>
<line x1="486.40" y1="488.03" x2="492.60" y2="488.03" stroke="#000" stroke-width="1.3" stroke-linecap="butt"/>
<line x1="354.30" y1="524.54" x2="354.30" y2="530.56" stroke="#000" stroke-width="1.3" stroke-linecap="butt"/>
<line x1="351.20" y1="524.54" x2="357.40" y2="524.54" stroke="#000" stroke-width="1.3" stroke-linecap="butt"/>
<line x1="388.10" y1="508.06" x2="388.10" y2="517.53" stroke="#000" stroke-width="1.3" stroke-linecap="butt"/>
<line x1="385.00" y1="508.06" x2="391.20" y2="508.06" stroke="#000" stroke-width="1.3" stroke-linecap="butt"/>
<line x1="421.90" y1="479.21" x2="421.90" y2="491.74" stroke="#000" stroke-width="1.3" stroke-linecap="butt"/>
<line x1="418.80" y1="479.21" x2="425.00" y2="479.21" stroke="#000" stroke-width="1.3" stroke-linecap="butt"/>
<line x1="455.70" y1="454.48" x2="455.70" y2="471.79" stroke="#000" stroke-width="1.3" stroke-linecap="butt"/>
<line x1="452.60" y1="454.48" x2="458.80" y2="454.48" stroke="#000" stroke-width="1.3" stroke-linecap="butt"/>
<line x1="489.50" y1="453.66" x2="489.50" y2="469.98" stroke="#000" stroke-width="1.3" stroke-linecap="butt"/>
<line x1="486.40" y1="453.66" x2="492.60" y2="453.66" stroke="#000" stroke-width="1.3" stroke-linecap="butt"/>
<polyline points="354.30,530.56 388.10,517.53 421.90,491.74 455.70,471.79 489.50,469.98" fill="none" stroke="#000" stroke-width="1.3"/>
<circle cx="354.30" cy="530.56" r="2.1" fill="#000"/>
<circle cx="388.10" cy="517.53" r="2.1" fill="#000"/>
<circle cx="421.90" cy="491.74" r="2.1" fill="#000"/>
<circle cx="455.70" cy="471.79" r="2.1" fill="#000"/>
<circle cx="489.50" cy="469.98" r="2.1" fill="#000"/>
<text x="406.90" y="594.80" font-size="10.65" text-anchor="middle">time (min)</text>
<text transform="translate(283.50 506.00) rotate(-90) scale(1 0.83)" font-size="9.56" text-anchor="middle">transmigrated cells/ field of</text>
<text transform="translate(294.40 504.00) rotate(-90) scale(1 0.83)" font-size="9.6" text-anchor="middle">view</text>
<text x="455.50" y="449.90" font-size="14" text-anchor="middle" style="stroke-width:0.5px">#</text>
<text x="490.00" y="449.90" font-size="14" text-anchor="middle" style="stroke-width:0.5px">#</text>
</svg>
</body></html>
